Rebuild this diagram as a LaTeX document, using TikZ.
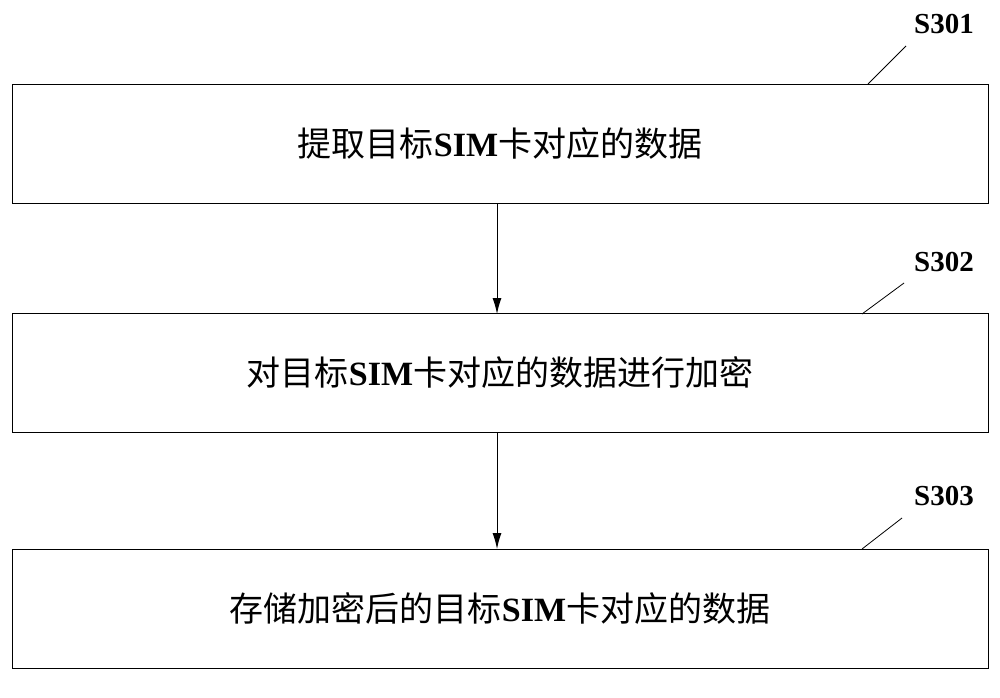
\documentclass[tikz,border=0pt]{standalone}
\usepackage{fontspec}
\usetikzlibrary{arrows.meta}
\setmainfont{Liberation Serif}
\newfontfamily\cjk{Noto Sans CJK SC}
\begin{document}
\begin{tikzpicture}[x=1pt,y=-1pt,
  box/.style={draw,line width=1pt,minimum width=976pt,minimum height=119pt,inner sep=0pt,font=\fontsize{34}{38}\selectfont},
  lbl/.style={font=\bfseries\fontsize{29}{32}\selectfont},
  arr/.style={-{Latex[length=16pt,width=9pt]},line width=1pt}]
\useasboundingbox (0,0) rectangle (1000,697);
\node[box] (b1) at (500,143.5) {{\cjk 提取目标}\textbf{SIM}{\cjk 卡对应的数据}};
\node[box] (b2) at (500,373) {{\cjk 对目标}\textbf{SIM}{\cjk 卡对应的数据进行加密}};
\node[box] (b3) at (500,608.5) {{\cjk 存储加密后的目标}\textbf{SIM}{\cjk 卡对应的数据}};
\draw[arr] (497,203) -- (497,314);
\draw[arr] (497,432.5) -- (497,549);
\node[lbl] (l1) at (944,24) {S301};
\node[lbl] (l2) at (944,262) {S302};
\node[lbl] (l3) at (944,496) {S303};
\draw[line width=0.8pt] (868,84) -- (906,46);
\draw[line width=0.8pt] (862,314) -- (904,283);
\draw[line width=0.8pt] (862,549) -- (902,518);
\end{tikzpicture}
\end{document}
